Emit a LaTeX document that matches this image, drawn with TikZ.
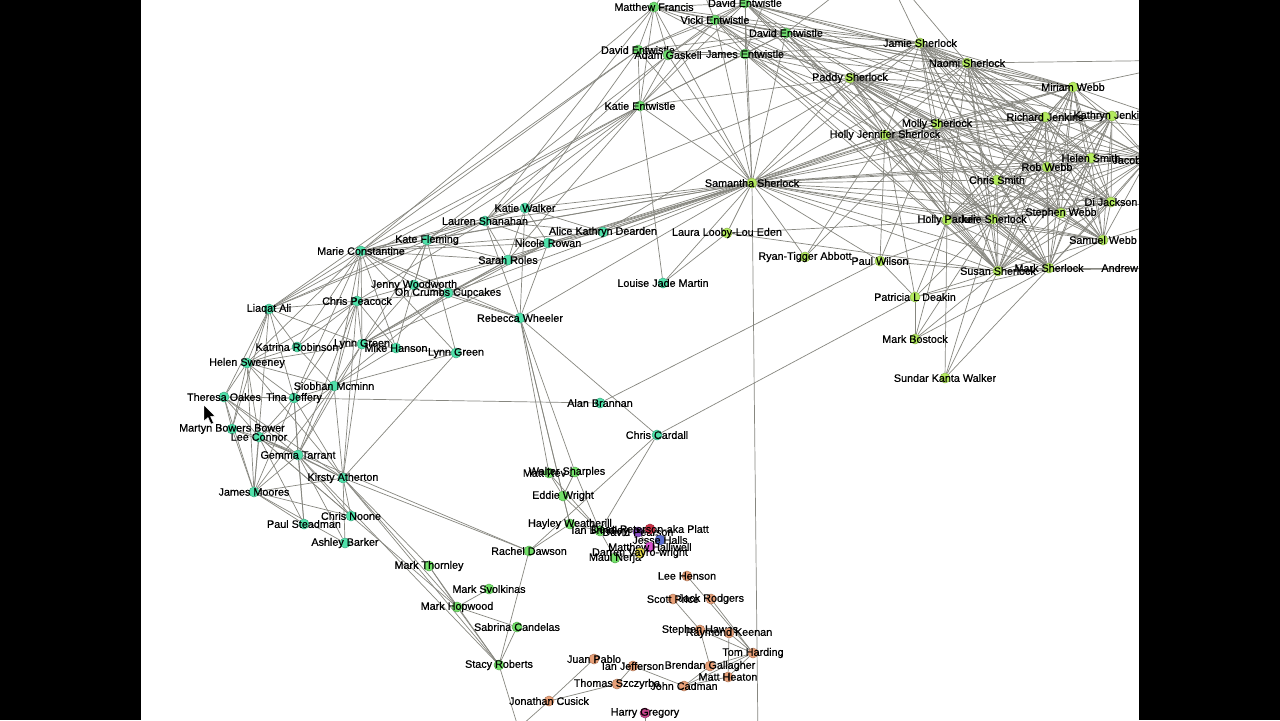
\documentclass[tikz,border=0pt]{standalone}
\usepackage{fontspec}
\setmainfont{Liberation Sans}
\newfontfamily\labfont{Liberation Sans}[RawFeature={embolden=0.6}]
\usetikzlibrary{backgrounds}
\definecolor{cE}{RGB}{110,220,110}
\definecolor{cR}{RGB}{180,235,95}
\definecolor{cT}{RGB}{80,225,170}
\definecolor{cG}{RGB}{115,225,105}
\definecolor{cO}{RGB}{232,160,120}
\definecolor{cH}{RGB}{200,70,140}
\definecolor{cRed}{RGB}{205,50,70}
\definecolor{cPur}{RGB}{140,80,200}
\definecolor{cBlu}{RGB}{90,110,210}
\definecolor{cPnk}{RGB}{215,80,205}
\definecolor{cYel}{RGB}{225,215,70}
\definecolor{edgec}{RGB}{135,135,128}
\newcommand\mynode[5]{\node[nd=#1, label={[lab]center:#5}] (#2) at (#3,#4) {};}
\begin{document}
\begin{tikzpicture}[x=0.5pt,y=-0.5pt,
  nd/.style={circle, minimum size=5pt, inner sep=0pt, fill=#1, draw=#1!75!black, line width=0.25pt},
  lab/.style={font=\labfont\fontsize{5.4}{6}\selectfont, inner sep=0pt, text=black},
  edge/.style={draw=edgec, line width=0.35pt}]
\useasboundingbox (0,0) rectangle (1280,720);
% ---------- Entwistle group
\mynode{cE}{mf}{654}{7}{Matthew Francis}
\mynode{cE}{de1}{745}{3}{David Entwistle}
\mynode{cE}{ve}{715}{20}{Vicki Entwistle}
\mynode{cE}{de2}{786}{33}{David Entwistle}
\mynode{cE}{de3}{638}{50}{David Entwistle}
\mynode{cE}{ag}{668}{55}{Adam Gaskell}
\mynode{cE}{je}{745}{54}{James Entwistle}
\mynode{cE}{ke}{640}{106}{Katie Entwistle}
% ---------- Sherlock / Webb group
\mynode{cR}{pa}{850}{78}{Paddy Sherlock}
\mynode{cR}{jsh}{920}{43}{Jamie Sherlock}
\mynode{cR}{ns}{967}{63}{Naomi Sherlock}
\mynode{cR}{mw}{1073}{87}{Miriam Webb}
\mynode{cR}{rj}{1045}{117}{Richard Jenkins}
\mynode{cR}{kj}{1112}{116}{Kathryn Jenkins}
\mynode{cR}{ms}{937}{124}{Molly Sherlock}
\mynode{cR}{hj}{885}{135}{Holly Jennifer Sherlock}
\mynode{cR}{hs}{1091}{158}{Helen Smith}
\node[nd=cR] (jac) at (1148,158) {};
\node[lab, anchor=west] (jaclab) at (1112,160) {Jacob};
\mynode{cR}{rw}{1047}{167}{Rob Webb}
\mynode{cR}{ss}{752}{183}{Samantha Sherlock}
\mynode{cR}{cs}{997}{180}{Chris Smith}
\mynode{cR}{dj}{1111}{202}{Di Jackson}
\mynode{cR}{hp}{947}{220}{Holly Parker}
\mynode{cR}{jus}{993}{219}{Julie Sherlock}
\mynode{cR}{sw}{1061}{213}{Stephen Webb}
\mynode{cR}{suw}{1103}{240}{Samuel Webb}
\mynode{cR}{pw}{880}{261}{Paul Wilson}
\mynode{cR}{sus}{998}{271}{Susan Sherlock}
\mynode{cR}{msh}{1049}{268}{Mark Sherlock}
\node[lab, anchor=west] (andlab) at (1101,268) {Andrew};
\coordinate (andr) at (1170,268);
\mynode{cR}{rta}{805}{257}{Ryan-Tigger Abbott}
\mynode{cR}{lle}{727}{233}{Laura Looby-Lou Eden}
\mynode{cR}{pld}{915}{297}{Patricia L Deakin}
\mynode{cR}{mb}{915}{339}{Mark Bostock}
\mynode{cR}{skw}{945}{378}{Sundar Kanta Walker}
% ---------- teal group
\mynode{cT}{kw}{525}{208}{Katie Walker}
\mynode{cT}{ls}{485}{221}{Lauren Shanahan}
\mynode{cT}{akd}{603}{232}{Alice Kathryn Dearden}
\mynode{cT}{kf}{427}{240}{Kate Fleming}
\mynode{cT}{mc}{361}{251}{Marie Constantine}
\mynode{cT}{nr}{548}{243}{Nicole Rowan}
\mynode{cT}{sr}{508}{260}{Sarah Roles}
\mynode{cT}{ljm}{663}{283}{Louise Jade Martin}
\mynode{cT}{jw}{414}{285}{Jenny Woodworth}
\mynode{cT}{occ}{448}{293}{Oh Crumbs Cupcakes}
\mynode{cT}{cp}{357}{301}{Chris Peacock}
\mynode{cT}{la}{269}{309}{Liaqat Ali}
\mynode{cT}{rwh}{520}{318}{Rebecca Wheeler}
\mynode{cT}{kr}{297}{347}{Katrina Robinson}
\mynode{cT}{lg1}{362}{344}{Lynn Green}
\mynode{cT}{mh}{396}{348}{Mike Hanson}
\mynode{cT}{lg2}{456}{353}{Lynn Green}
\mynode{cT}{hsw}{247}{363}{Helen Sweeney}
\mynode{cT}{sm}{334}{386}{Siobhan Mcminn}
\mynode{cT}{to}{224}{397}{Theresa Oakes}
\mynode{cT}{tj}{294}{398}{Tina Jeffery}
\mynode{cT}{ab}{600}{403}{Alan Brannan}
\mynode{cT}{mbb}{232}{429}{Martyn Bowers Bower}
\mynode{cT}{lc}{259}{437}{Lee Connor}
\mynode{cT}{cc}{657}{435}{Chris Cardall}
\mynode{cT}{gt}{298}{455}{Gemma Tarrant}
\mynode{cT}{ka}{343}{478}{Kirsty Atherton}
\mynode{cT}{jm}{254}{492}{James Moores}
\mynode{cT}{cn}{351}{516}{Chris Noone}
\mynode{cT}{ps}{304}{524}{Paul Steadman}
\mynode{cT}{abk}{345}{543}{Ashley Barker}
% ---------- green middle group
\mynode{cG}{w1}{549}{473}{Matt Rev 3}
\node[nd=cG, label={[lab, xshift=-4pt]center:Walter Sharples}] (w2) at (575,472) {};
\mynode{cG}{ew}{563}{496}{Eddie Wright}
\mynode{cG}{hw}{570}{524}{Hayley Weatherill}
\mynode{cG}{ib}{600}{531}{Ian Brindley}
\mynode{cG}{rd}{529}{551}{Rachel Dawson}
\mynode{cG}{mt}{429}{566}{Mark Thornley}
\mynode{cG}{msv}{489}{589}{Mark Svolkinas}
\mynode{cG}{mho}{457}{607}{Mark Hopwood}
\mynode{cG}{sc}{517}{627}{Sabrina Candelas}
\mynode{cG}{str}{499}{665}{Stacy Roberts}
\mynode{cG}{mn}{615}{558}{Maul Nerja}
% ---------- mixed cluster
\mynode{cPur}{dp}{638}{532}{David Pearson}
\mynode{cRed}{pl}{650}{529}{Dean Peterson-aka Platt}
\mynode{cBlu}{jh}{660}{540}{Jesse Halls}
\mynode{cPnk}{mhl}{650}{547}{Matthew Halliwell}
\mynode{cYel}{dvw}{640}{553}{Darren Vayro-wright}
% ---------- orange group
\mynode{cO}{lh}{687}{576}{Lee Henson}
\mynode{cO}{sp}{673}{599}{Scott Price}
\mynode{cO}{jr}{711}{599}{Jack Rodgers}
\mynode{cO}{sh}{700}{630}{Stephen Hawes}
\mynode{cO}{rk}{729}{633}{Raymond Keenan}
\mynode{cO}{th}{753}{653}{Tom Harding}
\mynode{cO}{jp}{594}{659}{Juan Pablo}
\mynode{cO}{ij}{633}{666}{Ian Jefferson}
\mynode{cO}{bg}{710}{666}{Brendan Gallagher}
\mynode{cO}{mhe}{728}{677}{Matt Heaton}
\mynode{cO}{tsz}{617}{684}{Thomas Szczyrba}
\mynode{cO}{jca}{684}{686}{John Cadman}
\mynode{cO}{jc}{549}{701}{Jonathan Cusick}
\mynode{cH}{hg}{645}{713}{Harry Gregory}
% ---------- off-view ends
\coordinate (offt1) at (690,-40);
\coordinate (offt2) at (780,-40);
\coordinate (offt3) at (880,-40);
\coordinate (offr1) at (1200,60);
\coordinate (offr2) at (1200,130);
\coordinate (offr3) at (1200,210);
\coordinate (offb1) at (522,740);
\coordinate (offb2) at (505,740);
\coordinate (offb3) at (645,740);
\coordinate (offb4) at (758,740);
% ---------- edges
\begin{scope}[on background layer]
\fill[white] (0,0) rectangle (1280,720);
\clip (141,0) rectangle (1139,720);
\def\rcore{ss,pa,jsh,ns,mw,rj,kj,ms,hj,hs,jac,rw,cs,dj,hp,jus,sw,suw,sus,msh}
\foreach \a [count=\i] in \rcore {\foreach \b [count=\j] in \rcore {\ifnum\i<\j\relax \draw[edge] (\a) -- (\b);\fi}}
\def\ecore{mf,de1,ve,de2,de3,ag,je,ke}
\foreach \a [count=\i] in \ecore {\foreach \b [count=\j] in \ecore {\ifnum\i<\j\relax \draw[edge] (\a) -- (\b);\fi}}
\foreach \a in {de1,ve,de2,je}{\foreach \b in {jsh,ns,ms,hj,mw,rj,sus,msh}{\draw[edge] (\a) -- (\b);}}
\foreach \a/\b in {mf/ss,mf/pa,mf/jsh,ag/ss,je/ss,ve/ss,de2/ss,de1/ss,de3/ss,
  ke/mc,ke/kf,ke/ls,ke/kw,ke/la,ke/ljm,ke/ss,ke/pa,ke/sr,mf/mc,mf/ls,de3/la,de3/kw,de3/mc,ag/ls,ag/kf,
  ss/kw,ss/ls,ss/akd,ss/nr,ss/sr,ss/rwh,ss/kf,ss/mc,ss/jw,ss/occ,ss/lg1,ss/lle,ss/rta,ss/ljm,
  hj/akd,ms/nr,pa/kw,jsh/akd,
  lle/ljm,lle/jus,lle/sus,rta/hj,rta/ms,
  pw/ss,pw/hj,pw/ms,pw/pld,pw/sus,pw/jus,pw/ab,
  pld/sus,pld/msh,pld/jus,pld/hp,pld/mb,pld/cc,pld/hj,
  mb/sus,mb/jus,mb/msh,mb/hp,skw/sus,skw/msh,skw/jus,skw/hp,
  msh/andr,sus/andr,ns/offr1,mw/offr1,kj/offr2,hs/offr2,dj/offr3,suw/offr3,rj/offr2,mw/offr2,
  mf/offt1,de1/offt2,ve/offt1,de2/offt3,jsh/offt3,je/offt2,ns/offt3}
  {\draw[edge] (\a) -- (\b);}
\foreach \a/\b in {mc/kf,mc/ls,mc/kw,mc/cp,mc/la,mc/jw,mc/occ,mc/lg1,mc/mh,mc/lg2,mc/kr,mc/hsw,mc/sm,mc/tj,mc/sr,mc/nr,mc/akd,mc/rwh,
  cp/la,cp/kr,cp/lg1,cp/mh,cp/sm,cp/tj,cp/hsw,cp/ka,cp/gt,cp/jw,cp/occ,cp/ls,
  la/hsw,la/to,la/kr,la/lg1,la/tj,la/mbb,la/kf,la/ls,la/jm,
  hsw/to,hsw/kr,hsw/tj,hsw/sm,hsw/mbb,hsw/lc,hsw/jm,hsw/lg1,hsw/ka,
  to/mbb,to/lc,to/tj,to/gt,to/jm,to/ab,to/ka,
  tj/sm,tj/lc,tj/gt,tj/jm,tj/ka,tj/ps,
  sm/lg1,sm/mh,sm/gt,sm/ka,sm/lc,sm/jm,sm/kr,sm/occ,sm/lg2,
  lg1/mh,lg1/occ,lg1/jw,lg1/kf,lg1/ka,lg1/gt,lg1/nr,lg1/sr,
  lc/gt,lc/jm,lc/mbb,lc/ka,lc/ps,lc/cn,lc/rd,
  gt/ka,gt/jm,gt/ps,gt/abk,gt/cn,jm/ps,jm/abk,jm/cn,jm/ka,
  ka/cn,ka/abk,ka/mt,ka/mho,ka/str,ka/lg2,
  kf/ls,kf/kw,kf/lg2,kf/jw,kf/sr,ls/kw,ls/sr,ls/nr,ls/akd,ls/rwh,
  kw/nr,kw/sr,kw/akd,kw/rwh,nr/akd,nr/sr,nr/rwh,occ/jw,occ/sr,occ/rwh,occ/nr,jw/sr,jw/rwh,
  mbb/jm,mbb/gt,mh/lg2,mh/kf}
  {\draw[edge] (\a) -- (\b);}
\foreach \a/\b in {rwh/w1,rwh/w2,rwh/ew,rwh/hw,rwh/cc,w1/ew,w2/ew,ew/hw,hw/rd,rd/str,rd/ka,
  cc/ib,cc/rd,ew/ib,w1/ib,w2/ib,hw/ib,
  ib/dp,ib/pl,dp/pl,pl/jh,jh/mhl,mhl/dvw,dvw/mn,ib/mn,dp/mhl,
  mt/mho,mt/str,mho/str,msv/mho,mho/sc,sc/str,lc/mho,gt/str,
  str/offb1,jc/offb2,hg/offb3,ss/offb4,
  lh/th,jr/th,sp/sh,sh/th,rk/th,sh/bg,bg/th,mhe/th,jca/th,jca/bg,ij/jca,ij/tsz,tsz/jc,jp/jc,jca/mhe,rk/mhe}
  {\draw[edge] (\a) -- (\b);}
\end{scope}
% ---------- mouse pointer
\filldraw[fill=black, draw=white, line width=0.2pt] (204,405) -- (204,421) -- (208,417.5) -- (211,424) -- (213.5,423) -- (210.5,416.5) -- (215,416) -- cycle;
% ---------- black side bars
\fill[black] (0,0) rectangle (141,720);
\fill[black] (1139,0) rectangle (1280,720);
\end{tikzpicture}
\end{document}
